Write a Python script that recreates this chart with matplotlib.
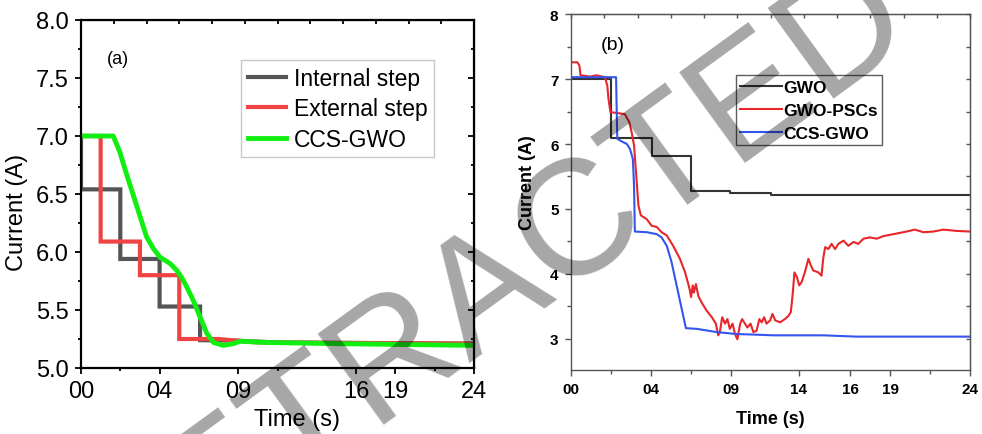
import matplotlib
matplotlib.use('Agg')
import matplotlib.pyplot as plt
from matplotlib.ticker import MultipleLocator, FixedLocator

plt.rcParams['font.family'] = ['Liberation Sans', 'DejaVu Sans']

# x values are in tick-slot units: 0..10 across the axis
# panel (a)
xt_a = [0, 2, 4, 7, 8, 10]
xt_a_labels = ['00', '04', '09', '16', '19', '24']
xt_a_minor = [1, 5, 9]

int_x = [0, 0, 1.0, 1.0, 2.0, 2.0, 3.03, 3.03, 4.0, 5.0, 10]
int_y = [7.0, 6.54, 6.54, 5.94, 5.94, 5.53, 5.53, 5.24, 5.235, 5.22, 5.21]

ext_x = [0, 0.5, 0.5, 1.5, 1.5, 2.5, 2.5, 3.5, 4.5, 10]
ext_y = [7.0, 7.0, 6.09, 6.09, 5.80, 5.80, 5.25, 5.25, 5.22, 5.21]

ccs_a_x = [0, 0.82, 0.99, 1.16, 1.33, 1.5, 1.67, 1.84, 2.01, 2.27, 2.44, 2.56, 2.69,
           2.86, 3.03, 3.2, 3.37, 3.62, 3.88, 4.05, 4.73, 6.43, 10]
ccs_a_y = [7.0, 7.0, 6.86, 6.67, 6.49, 6.31, 6.13, 6.03, 5.955, 5.90, 5.84, 5.78, 5.70,
           5.58, 5.44, 5.30, 5.22, 5.195, 5.21, 5.23, 5.22, 5.21, 5.195]

# panel (b)
xt_b = [0, 2, 4, 5.71, 7, 8, 10]
xt_b_labels = ['00', '04', '09', '14', '16', '19', '24']
xt_b_minor = [1, 3, 9]

gwo_x = [0, 0.99, 0.99, 2.02, 2.02, 3.02, 3.02, 3.98, 3.98, 5.0, 5.0, 10]
gwo_y = [7.0, 7.0, 6.10, 6.10, 5.81, 5.81, 5.27, 5.27, 5.24, 5.24, 5.22, 5.22]

psc_x = [0, 0.16, 0.21, 0.24, 0.48, 0.64, 0.85, 0.91, 0.94, 0.99, 1.14, 1.35, 1.46, 1.52,
         1.58, 1.63, 1.69, 1.75, 1.9, 2.02, 2.15, 2.27, 2.4, 2.56, 2.73, 2.86, 2.97, 3.01,
         3.05, 3.08, 3.13, 3.19, 3.27, 3.4, 3.53, 3.63, 3.69, 3.73, 3.79, 3.86, 3.92, 3.98,
         4.05, 4.11, 4.17, 4.24, 4.29, 4.36, 4.42, 4.5, 4.57, 4.65, 4.72, 4.78, 4.84, 4.9,
         4.99, 5.05, 5.12, 5.24, 5.36, 5.45, 5.51, 5.56, 5.6, 5.66, 5.72, 5.78, 5.86, 5.95,
         6.01, 6.07, 6.2, 6.28, 6.32, 6.37, 6.45, 6.53, 6.62, 6.7, 6.83, 6.95, 7.08, 7.2,
         7.33, 7.49, 7.66, 7.83, 8.08, 8.41, 8.62, 8.83, 9.08, 9.33, 9.67, 10]
psc_y = [7.26, 7.26, 7.21, 7.06, 7.04, 7.06, 7.03, 6.9, 6.69, 6.49, 6.48, 6.46, 6.34, 6.18,
         5.98, 5.56, 5.05, 4.90, 4.84, 4.74, 4.72, 4.64, 4.59, 4.43, 4.23, 4.02, 3.77, 3.64,
         3.82, 3.71, 3.84, 3.66, 3.56, 3.43, 3.33, 3.23, 3.05, 3.10, 3.33, 3.23, 3.30, 3.15,
         3.23, 3.07, 2.99, 3.23, 3.30, 3.23, 3.17, 3.23, 3.10, 3.12, 3.30, 3.25, 3.33, 3.23,
         3.28, 3.38, 3.28, 3.25, 3.30, 3.35, 3.41, 3.71, 4.02, 3.95, 3.82, 3.87, 4.02, 4.23,
         4.13, 4.05, 4.02, 3.97, 4.23, 4.41, 4.38, 4.46, 4.38, 4.46, 4.51, 4.43, 4.49, 4.46,
         4.54, 4.56, 4.54, 4.58, 4.61, 4.65, 4.68, 4.64, 4.65, 4.68, 4.66, 4.65]

ccs_b_x = [0, 1.13, 1.14, 1.16, 1.27, 1.4, 1.48, 1.55, 1.58, 1.6, 1.9, 2.15, 2.27, 2.4,
           2.52, 2.88, 3.15, 3.65, 4.15, 4.65, 5.07, 6.32, 7.16, 10]
ccs_b_y = [7.03, 7.03, 6.69, 6.08, 6.04, 6.0, 5.92, 5.77, 5.36, 4.65, 4.64, 4.61, 4.56, 4.43,
           4.18, 3.16, 3.15, 3.10, 3.07, 3.06, 3.05, 3.05, 3.03, 3.03]

W, H = 982, 435
fig = plt.figure(figsize=(W / 100, H / 100), dpi=100)

# ---------------- panel (a) ----------------
ax1 = fig.add_axes([81 / W, 1 - 369 / H, 393 / W, 348 / H])
ax1.plot(int_x, int_y, color='#555555', lw=3, label='Internal step', solid_joinstyle='miter')
ax1.plot(ext_x, ext_y, color='#f04444', lw=3, label='External step', solid_joinstyle='miter')
ax1.plot(ccs_a_x, ccs_a_y, color='#11ee11', lw=3.5, label='CCS-GWO')
ax1.set_xlim(0, 10)
ax1.set_ylim(5.0, 8.0)
ax1.xaxis.set_major_locator(FixedLocator(xt_a))
ax1.set_xticklabels(xt_a_labels)
ax1.xaxis.set_minor_locator(FixedLocator(xt_a_minor))
ax1.yaxis.set_major_locator(MultipleLocator(0.5))
ax1.yaxis.set_minor_locator(MultipleLocator(0.25))
ax1.yaxis.set_major_formatter(plt.FormatStrFormatter('%.1f'))
ax1.tick_params(which='both', direction='out', width=1.3, labelsize=17, color='black')
ax1.tick_params(which='major', length=4, pad=5)
ax1.tick_params(which='minor', length=2.5)
for s in ax1.spines.values():
    s.set_linewidth(1.6)
top1 = ax1.secondary_xaxis('top')
top1.set_xticks([i * 10 / 12 for i in range(13)])
top1.tick_params(direction='in', length=3, width=1.3, labeltop=False)
right1 = ax1.secondary_yaxis('right')
right1.yaxis.set_major_locator(MultipleLocator(0.5))
right1.yaxis.set_minor_locator(MultipleLocator(0.25))
right1.tick_params(which='both', direction='in', width=1.3, labelright=False)
right1.tick_params(which='major', length=4)
right1.tick_params(which='minor', length=2.5)
ax1.text(-0.163, 0.451, 'Current (A)', transform=ax1.transAxes, rotation=90,
         ha='center', va='center', fontsize=17)
ax1.text(0.55, -0.147, 'Time (s)', transform=ax1.transAxes,
         ha='center', va='center', fontsize=17)
ax1.text(0.095, 0.89, '(a)', transform=ax1.transAxes, ha='center', va='center', fontsize=13)
leg1 = ax1.legend(loc='upper left', bbox_to_anchor=(160 / 393, 1 - 40 / 348), fontsize=16.5,
                  frameon=True, fancybox=False, edgecolor='#bbbbbb', handlelength=1.65,
                  handletextpad=0.35, labelspacing=0.32, borderpad=0.3, borderaxespad=0)
leg1.get_frame().set_linewidth(1.0)

# ---------------- panel (b) ----------------
ax2 = fig.add_axes([571 / W, 1 - 370.7 / H, 399 / W, 355.4 / H])
ax2.plot(gwo_x, gwo_y, color='#333333', lw=1.5, label='GWO')
ax2.plot(psc_x, psc_y, color='#e8262a', lw=1.5, label='GWO-PSCs')
ax2.plot(ccs_b_x, ccs_b_y, color='#3355ee', lw=1.5, label='CCS-GWO')
ax2.set_xlim(0, 10)
ax2.set_ylim(2.52, 8.0)
ax2.xaxis.set_major_locator(FixedLocator(xt_b))
ax2.set_xticklabels(xt_b_labels)
ax2.xaxis.set_minor_locator(FixedLocator(xt_b_minor))
ax2.yaxis.set_major_locator(MultipleLocator(1))
ax2.yaxis.set_minor_locator(MultipleLocator(0.5))
ax2.tick_params(which='both', direction='out', width=1.0, color='#555555', labelsize=11)
ax2.tick_params(which='major', length=4, pad=5)
ax2.tick_params(which='minor', length=3)
for lab in ax2.get_xticklabels() + ax2.get_yticklabels():
    lab.set_fontweight('bold')
for s in ax2.spines.values():
    s.set_linewidth(1.0)
    s.set_color('#555555')
top2 = ax2.secondary_xaxis('top')
top2.set_xticks([i * 10 / 12 for i in range(13)])
top2.tick_params(direction='in', length=3, width=1.0, color='#555555', labeltop=False)
right2 = ax2.secondary_yaxis('right')
right2.yaxis.set_major_locator(MultipleLocator(0.5))
right2.tick_params(direction='in', length=3, width=1.0, color='#555555', labelright=False)
ax2.text(-0.108, 0.528, 'Current (A)', transform=ax2.transAxes, rotation=90,
         ha='center', va='center', fontsize=13, fontweight='bold')
ax2.text(0.499, -0.136, 'Time (s)', transform=ax2.transAxes,
         ha='center', va='center', fontsize=13, fontweight='bold')
ax2.text(0.105, 0.915, '(b)', transform=ax2.transAxes, ha='center', va='center', fontsize=14)
leg2 = ax2.legend(loc='upper left', bbox_to_anchor=(165 / 399, 1 - 61 / 355.4),
                  prop={'size': 12.5, 'weight': 'bold'}, frameon=True, fancybox=False,
                  edgecolor='#333333', handlelength=2.4, handletextpad=0.05,
                  labelspacing=0.45, borderpad=0.25, borderaxespad=0)
leg2.get_frame().set_linewidth(1.0)

# watermark
fig.text(0.496, 0.335, 'RETRACTED', fontsize=118, color='black', alpha=0.35,
         rotation=36, ha='center', va='center', fontweight='normal')

fig.savefig('out.png', dpi=100)
